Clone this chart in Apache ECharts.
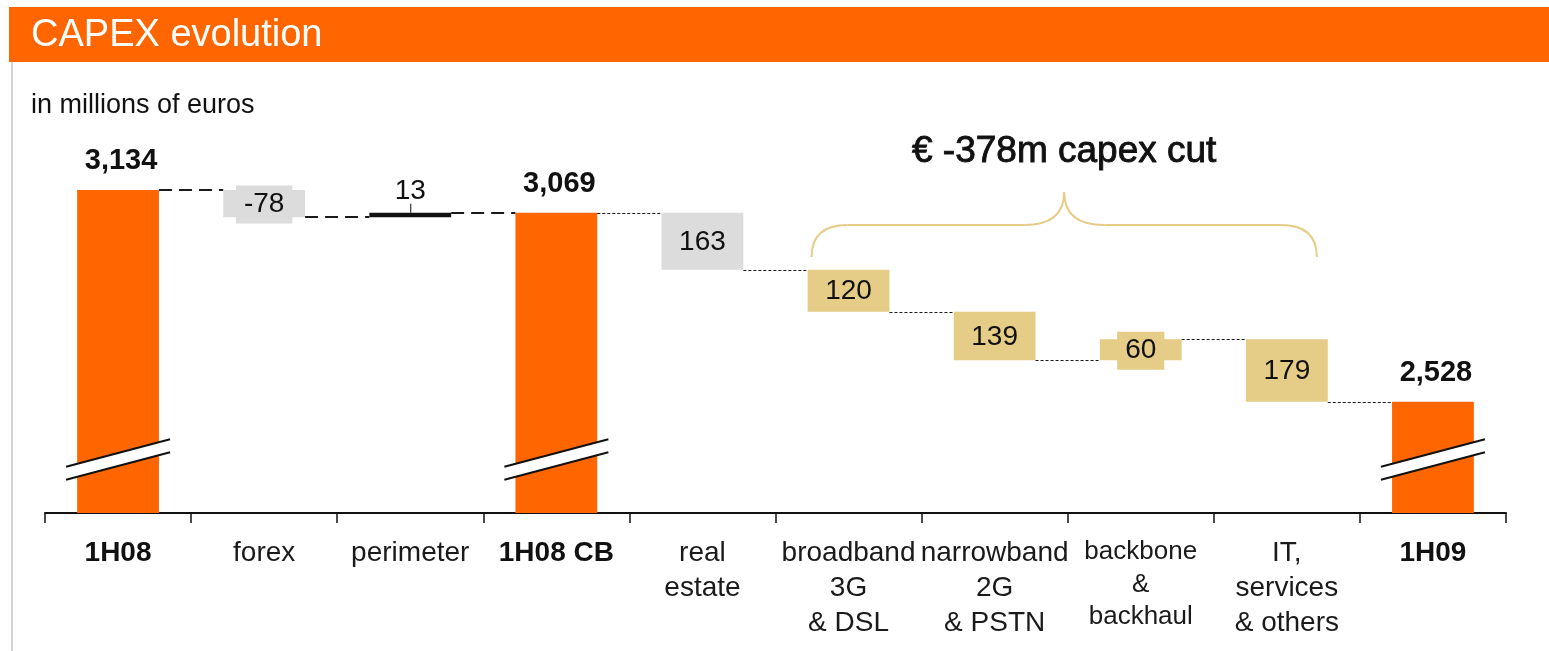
<!DOCTYPE html>
<html>
<head>
<meta charset="utf-8">
<script src="https://cdn.jsdelivr.net/npm/echarts@6/dist/echarts.min.js"></script>
<style>
html,body{margin:0;padding:0;background:#fff;}
#c{width:1549px;height:651px;}
</style>
</head>
<body>
<div id="c"></div>
<script>
// ---------- data ----------
const categories = ['1H08', 'forex', 'perimeter', '1H08 CB', 'real\nestate',
  'broadband\n3G\n& DSL', 'narrowband\n2G\n& PSTN', 'backbone\n&\nbackhaul',
  'IT,\nservices\n& others', '1H09'];
// totals are absolute levels, others are signed changes
const values = [3134, -78, 13, 3069, -163, -120, -139, 60, -179, 2528];
const kinds = ['total', 'fx', 'scope', 'total', 'other', 'cut', 'cut', 'cut', 'cut', 'total'];
const valueLabels = ['3,134', '-78', '13', '3,069', '163', '120', '139', '60', '179', '2,528'];
const chartTitle = 'CAPEX evolution';
const unitNote = 'in millions of euros';
const braceTitle = '€ -378m capex cut';
const braceFrom = 5, braceTo = 8;

// ---------- styles ----------
const FONT = '"Liberation Sans", Arial, Helvetica, sans-serif';
const COLORS = { total: '#FF6600', fx: '#DCDCDC', scope: '#111111', other: '#DCDCDC', cut: '#E5CC87' };
const Y_MIN = 2210, Y_MAX = 3400;
const SMALL_LABEL_IDX = 7;

// waterfall ranges computed from the values
const rows = [];
let level = 0;
values.forEach((v, i) => {
  let s, e;
  if (kinds[i] === 'total') { s = Y_MIN; e = v; }
  else { s = level; e = level + v; }
  level = e;
  rows.push([i, s, e]);
});

function renderItem(params, api) {
  const i = api.value(0), s = api.value(1), e = api.value(2);
  const kind = kinds[i];
  const pS = api.coord([i, s]), pE = api.coord([i, e]);
  const bw = api.size([1, 0])[0] * 0.56;
  const cx = pS[0];
  const top = Math.min(pS[1], pE[1]);
  const h = Math.abs(pS[1] - pE[1]);
  const color = COLORS[kind];
  const children = [];
  children.push({ type: 'rect', shape: { x: cx - bw / 2, y: top, width: bw, height: h }, style: { fill: color } });

  if (kind === 'total') {
    const base = api.coord([i, Y_MIN])[1];
    const yb = base - 53.5, half = 52, sl = 0.263 * half, g = 6.5;
    children.push({ type: 'polygon', shape: { points: [[cx - half, yb - g + sl], [cx + half, yb - g - sl], [cx + half, yb + g - sl], [cx - half, yb + g + sl]] }, style: { fill: '#fff' } });
    children.push({ type: 'line', shape: { x1: cx - half, y1: yb - g + sl, x2: cx + half, y2: yb - g - sl }, style: { stroke: '#111', lineWidth: 2 } });
    children.push({ type: 'line', shape: { x1: cx - half, y1: yb + g + sl, x2: cx + half, y2: yb + g - sl }, style: { stroke: '#111', lineWidth: 2 } });
    children.push({ type: 'text', style: { text: valueLabels[i], x: cx + 3, y: pE[1] - 29, align: 'center', verticalAlign: 'middle', font: 'bold 29px ' + FONT, fill: '#111' } });
  } else if (kind === 'scope') {
    children.push({ type: 'line', shape: { x1: cx + 0.5, y1: top, x2: cx + 0.5, y2: top - 9 }, style: { stroke: '#111', lineWidth: 1 } });
    children.push({ type: 'text', style: { text: valueLabels[i], x: cx, y: top - 21, align: 'center', verticalAlign: 'middle', font: '28px ' + FONT, fill: '#111' } });
  } else {
    children.push({ type: 'text', style: { text: valueLabels[i], x: cx, y: top + h / 2 + 1, align: 'center', verticalAlign: 'middle', font: '28px ' + FONT, fill: '#111', backgroundColor: color, padding: [5, 8] } });
  }

  if (i < categories.length - 1) {
    const nx = api.coord([i + 1, e])[0];
    const bold = i < 3;
    const y = Math.round(pE[1]) + (bold ? 0 : 0.5);
    children.push({ type: 'line', shape: { x1: cx + bw / 2, y1: y, x2: nx - bw / 2, y2: y },
      style: { stroke: '#1a1a1a', lineWidth: bold ? 2 : 1, lineDash: bold ? [13, 7] : [3, 2] } });
  }
  return { type: 'group', children };
}

const chart = echarts.init(document.getElementById('c'), null, { renderer: 'canvas' });
chart.setOption({
  animation: false,
  backgroundColor: '#fff',
  grid: { left: 45, right: 43, top: 97, bottom: 138, containLabel: false, outerBoundsMode: 'none' },
  xAxis: {
    type: 'category',
    data: categories,
    boundaryGap: true,
    axisLine: { lineStyle: { color: '#111', width: 2 } },
    axisTick: { show: true, length: 10, alignWithLabel: false, lineStyle: { color: '#111', width: 1.5 } },
    axisLabel: {
      interval: 0,
      margin: 23,
      color: '#1a1a1a',
      fontFamily: FONT,
      formatter: (val, idx) => {
        const lines = val.split('\n');
        let st = 'n';
        if (kinds[idx] === 'total') st = 'b';
        else if (idx === SMALL_LABEL_IDX) st = 's';
        return lines.map(l => '{' + st + '|' + l + '}').join('\n');
      },
      rich: {
        n: { fontSize: 28, lineHeight: 35, fontFamily: FONT, color: '#1a1a1a' },
        b: { fontSize: 28, lineHeight: 35, fontFamily: FONT, fontWeight: 'bold', color: '#111' },
        s: { fontSize: 26, lineHeight: 32.5, fontFamily: FONT, color: '#1a1a1a' }
      }
    }
  },
  yAxis: {
    type: 'value', min: Y_MIN, max: Y_MAX, show: false,
    splitLine: { show: false }
  },
  series: [{
    type: 'custom',
    renderItem: renderItem,
    data: rows,
    encode: { x: 0, y: [1, 2] },
    clip: false,
    z: 3
  }],
  graphic: [
    { type: 'rect', id: 'hdr', shape: { x: 9, y: 7, width: 1540, height: 55 }, style: { fill: '#FF6600' }, z: 1 },
    { type: 'line', id: 'lb', shape: { x1: 12, y1: 62, x2: 12, y2: 651 }, style: { stroke: '#D4D4D4', lineWidth: 2 }, z: 1 },
    { type: 'text', id: 'ttl', x: 31, y: 36, style: { text: chartTitle, font: '38px ' + FONT, fill: '#fff', verticalAlign: 'middle' }, z: 2 },
    { type: 'text', id: 'unit', x: 31, y: 106, style: { text: unitNote, font: '27px ' + FONT, fill: '#111', verticalAlign: 'middle' }, z: 2 }
  ]
});

// brace above the capex cut items
const L = chart.convertToPixel({ xAxisIndex: 0 }, categories[braceFrom]) - 37;
const R = chart.convertToPixel({ xAxisIndex: 0 }, categories[braceTo]) + 30;
const M = (L + R) / 2;
const yE = 257, yH = 225, yP = 192;
const BRACE = { stroke: '#E5CC87', lineWidth: 2, fill: null };
chart.setOption({
  graphic: [
    { type: 'bezierCurve', id: 'b1', shape: { x1: L, y1: yE, cpx1: L, cpy1: yE - 20, cpx2: L + 10, cpy2: yH, x2: L + 36, y2: yH }, style: BRACE, z: 2 },
    { type: 'line', id: 'b2', shape: { x1: L + 36, y1: yH, x2: M - 40, y2: yH }, style: BRACE, z: 2 },
    { type: 'bezierCurve', id: 'b3', shape: { x1: M - 40, y1: yH, cpx1: M - 14, cpy1: yH, cpx2: M, cpy2: yH - 10, x2: M, y2: yP }, style: BRACE, z: 2 },
    { type: 'bezierCurve', id: 'b4', shape: { x1: M, y1: yP, cpx1: M, cpy1: yH - 10, cpx2: M + 14, cpy2: yH, x2: M + 40, y2: yH }, style: BRACE, z: 2 },
    { type: 'line', id: 'b5', shape: { x1: M + 40, y1: yH, x2: R - 36, y2: yH }, style: BRACE, z: 2 },
    { type: 'bezierCurve', id: 'b6', shape: { x1: R - 36, y1: yH, cpx1: R - 10, cpy1: yH, cpx2: R, cpy2: yE - 20, x2: R, y2: yE }, style: BRACE, z: 2 },
    { type: 'text', id: 'braceT', x: M, y: 152, style: { text: braceTitle, font: '37px ' + FONT, fill: '#111', stroke: '#111', lineWidth: 0.9, align: 'center', verticalAlign: 'middle' }, z: 2 }
  ]
});
</script>
</body>
</html>
